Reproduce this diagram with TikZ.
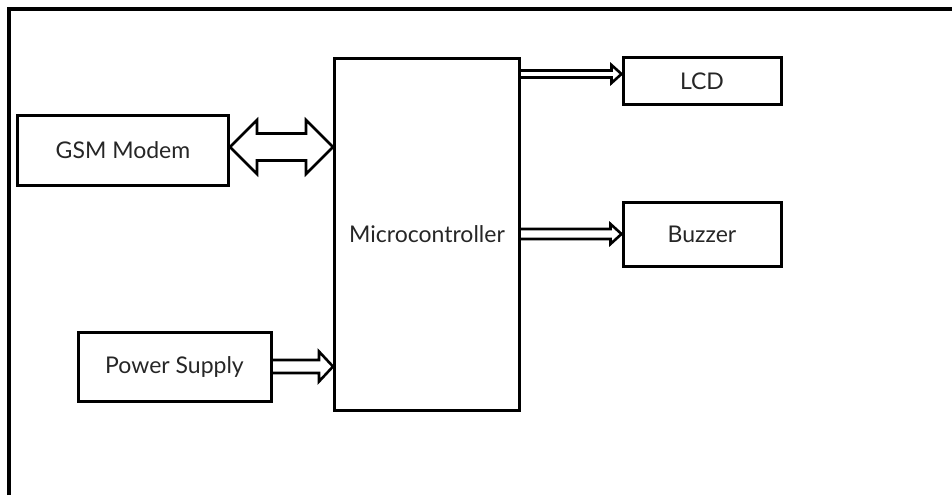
\documentclass[tikz,border=0pt]{standalone}
\usepackage{fontspec}
\setmainfont{Lato}
\usepackage{tikz}
\usetikzlibrary{calc}

\begin{document}
\begin{tikzpicture}[
  x=0.5pt, y=-0.5pt,
  font=\fontsize{11.5}{13}\selectfont,
  blk/.style   ={rectangle, draw, line width=1.5pt, align=center, inner sep=0pt, text=black!85},
  hollow/.style={line width=1.3pt, line join=miter},
  frame/.style ={line width=1.6pt}
  ]
  \useasboundingbox (0,0) rectangle (952,495);
  \draw[frame] (9,495) -- (9,9) -- (952,9);

  \node[blk, minimum width=105.5pt, minimum height=35pt]   (gsm)    at (123,150)   {GSM Modem};
  \node[blk, minimum width=92.5pt,  minimum height=176pt]  (mcu)    at (427,234.5) {Microcontroller};
  \node[blk, minimum width=79pt,    minimum height=23.5pt] (lcd)    at (702,81)    {LCD};
  \node[blk, minimum width=79pt,    minimum height=32pt]   (buzzer) at (702,234)   {Buzzer};
  \node[blk, minimum width=96.5pt,  minimum height=34.5pt] (power)  at (174.5,366.5) {Power Supply};

  \path (gsm.east) ++(0,-3) coordinate (gsmtip);
  \path (lcd.west) ++(0,-7) coordinate (lcdtip);

  % GSM <-> microcontroller
  \draw[hollow] (gsmtip) -- ++(27,-27) -- ++(0,13.5) -- ($(mcu.west |- gsmtip)+(-27,-13.5)$) -- ++(0,-13.5)
    -- (mcu.west |- gsmtip) -- ++(-27,27) -- ++(0,-13.5) -- ($(gsmtip)+(27,13.5)$) -- ++(0,13.5) -- cycle;
  % outputs
  \draw[hollow] ($(mcu.east |- lcdtip)+(0,-3.5)$) -- ($(lcdtip)+(-10,-3.5)$) -- ++(0,-5.5) -- (lcdtip)
    -- ++(-10,9) -- ++(0,-5.5) -- ($(mcu.east |- lcdtip)+(0,3.5)$);
  \draw[hollow] ($(mcu.east |- buzzer)+(0,-5)$) -- ($(buzzer.west)+(-11,-5)$) -- ++(0,-5) -- (buzzer.west)
    -- ++(-11,10) -- ++(0,-5) -- ($(mcu.east |- buzzer)+(0,5)$);
  % supply
  \draw[hollow] ($(power.east)+(0,-6.5)$) -- ($(mcu.west |- power)+(-14,-6.5)$) -- ++(0,-8.5) -- (mcu.west |- power)
    -- ++(-14,15) -- ++(0,-8.5) -- ($(power.east)+(0,6.5)$);

\end{tikzpicture}
\end{document}
